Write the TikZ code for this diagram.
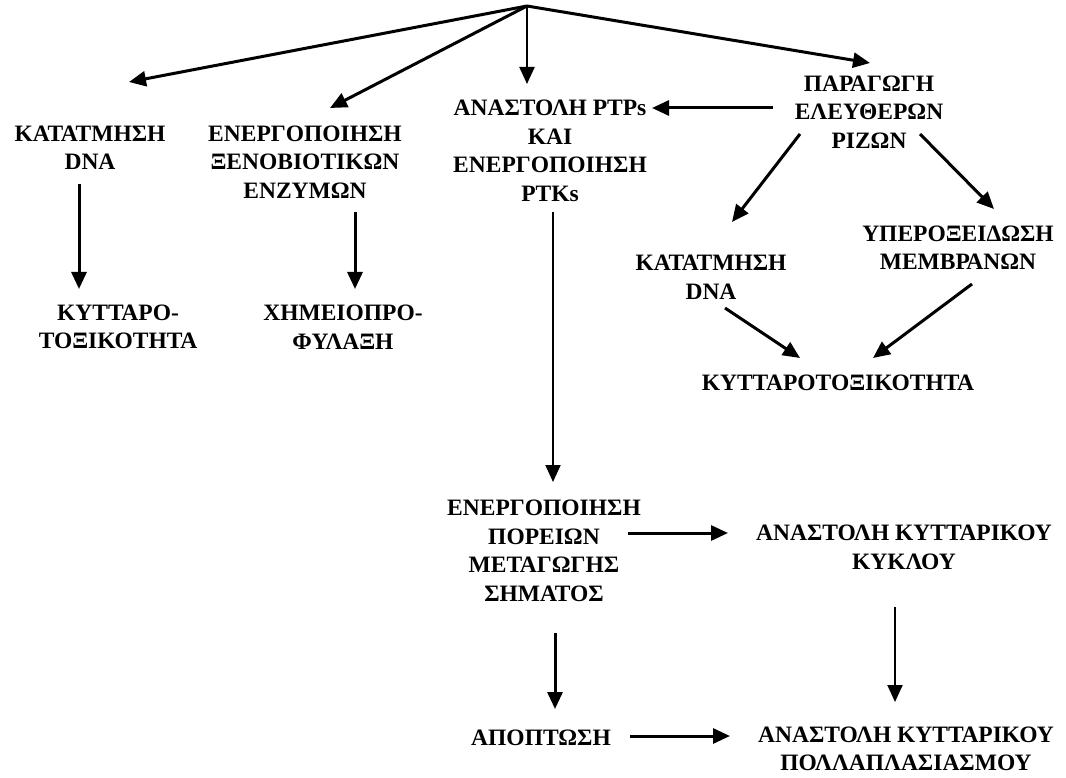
\documentclass[tikz,border=0pt]{standalone}
\usepackage{fontspec}
\setmainfont{Liberation Serif}
\usetikzlibrary{arrows.meta}
\begin{document}
\begin{tikzpicture}[x=1pt,y=-1pt,
  lbl/.style={align=center,inner sep=0pt,font=\bfseries\fontsize{23.5}{28.5}\selectfont},
  arr/.style={line width=3pt,-{Triangle[length=17pt,width=15pt]}},
  thinarr/.style={line width=2pt,-{Triangle[length=17pt,width=15pt]}}]
\useasboundingbox (0,0) rectangle (1066,778);
\coordinate (src) at (527,6);
\node[lbl] (A) at (90,148) {ΚΑΤΑΤΜΗΣΗ\\DNA};
\node[lbl] (B) at (305,162) {ΕΝΕΡΓΟΠΟΙΗΣΗ\\ΞΕΝΟΒΙΟΤΙΚΩΝ\\ΕΝΖΥΜΩΝ};
\node[lbl] (C) at (550,151) {ΑΝΑΣΤΟΛΗ PTPs\\ΚΑΙ\\ΕΝΕΡΓΟΠΟΙΗΣΗ\\PTKs};
\node[lbl] (D) at (869,112) {ΠΑΡΑΓΩΓΗ\\ΕΛΕΥΘΕΡΩΝ\\ΡΙΖΩΝ};
\node[lbl] (E) at (118,327) {ΚΥΤΤΑΡΟ-\\ΤΟΞΙΚΟΤΗΤΑ};
\node[lbl] (F) at (343,327) {ΧΗΜΕΙΟΠΡΟ-\\ΦΥΛΑΞΗ};
\node[lbl] (G) at (711,277.5) {ΚΑΤΑΤΜΗΣΗ\\DNA};
\node[lbl] (H) at (958,248) {ΥΠΕΡΟΞΕΙΔΩΣΗ\\ΜΕΜΒΡΑΝΩΝ};
\node[lbl] (I) at (838,383) {ΚΥΤΤΑΡΟΤΟΞΙΚΟΤΗΤΑ};
\node[lbl] (J) at (544,551) {ΕΝΕΡΓΟΠΟΙΗΣΗ\\ΠΟΡΕΙΩΝ\\ΜΕΤΑΓΩΓΗΣ\\ΣΗΜΑΤΟΣ};
\node[lbl] (K) at (904,547.5) {ΑΝΑΣΤΟΛΗ ΚΥΤΤΑΡΙΚΟΥ\\ΚΥΚΛΟΥ};
\node[lbl] (L) at (541,738) {ΑΠΟΠΤΩΣΗ};
\node[lbl] (M) at (906,749) {ΑΝΑΣΤΟΛΗ ΚΥΤΤΑΡΙΚΟΥ\\ΠΟΛΛΑΠΛΑΣΙΑΣΜΟΥ};
% top fan
\draw[arr] (src) -- ([shift={(39,-66)}]A.center);
\draw[arr] (src) -- ([shift={(25,-54)}]B.center);
\draw[thinarr,line width=2.2pt] (src) -- ([shift={(-23,-67)}]C.center);
\draw[arr] (src) -- ([shift={(1,-49)}]D.center);
% right part
\draw[arr] ([shift={(-96,-4)}]D.center) -- ([shift={(102,-43)}]C.center);
\draw[arr] ([shift={(-69,22)}]D.center) -- ([shift={(21,-55.5)}]G.center);
\draw[arr] ([shift={(51,22)}]D.center) -- ([shift={(36,-39)}]H.center);
\draw[arr] ([shift={(14,30.5)}]G.center) -- ([shift={(-38,-25)}]I.center);
\draw[arr] ([shift={(14,36)}]H.center) -- ([shift={(35,-25)}]I.center);
% left part
\draw[arr] ([shift={(-11,36)}]A.center) -- ([shift={(-39,-38)}]E.center);
\draw[arr] ([shift={(50,50)}]B.center) -- ([shift={(12,-38)}]F.center);
% lower part
\draw[thinarr] ([shift={(3,61)}]C.center) -- ([shift={(9,-69)}]J.center);
\draw[arr] ([shift={(84,-18)}]J.center) -- ([shift={(-176,-14.5)}]K.center);
\draw[arr] ([shift={(11,82)}]J.center) -- ([shift={(14,-29)}]L.center);
\draw[thinarr] ([shift={(-9,59.5)}]K.center) -- ([shift={(-11,-47)}]M.center);
\draw[arr] ([shift={(89,-2)}]L.center) -- ([shift={(-176,-13)}]M.center);
\end{tikzpicture}
\end{document}
